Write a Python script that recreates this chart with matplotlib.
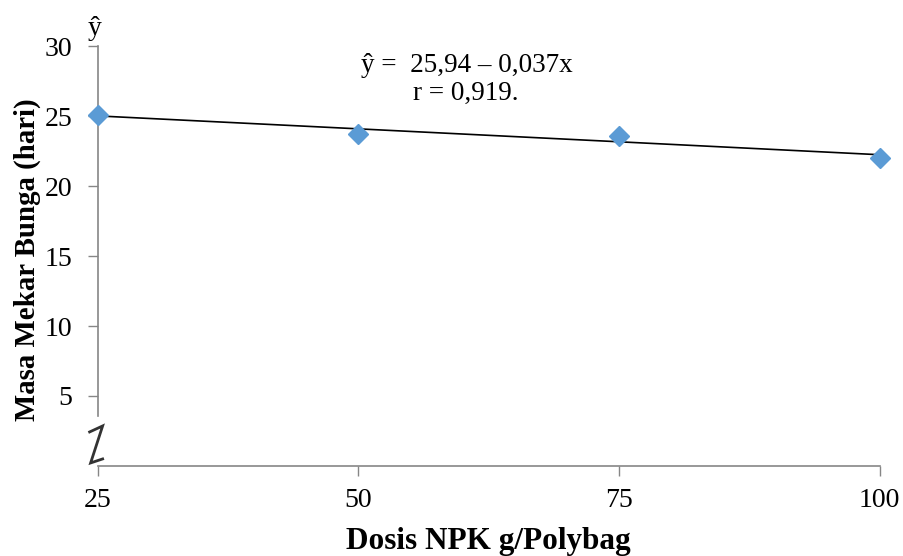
import matplotlib
matplotlib.use("Agg")
import matplotlib.pyplot as plt
import numpy as np

dosis = [25, 50, 75, 100]
masa_mekar = [25.1, 23.7, 23.6, 22.0]
intercept = 25.94
slope = -0.037
x_ticks = [25, 50, 75, 100]
y_ticks = [5, 10, 15, 20, 25, 30]

plt.rcParams['font.family'] = ['Liberation Serif', 'DejaVu Serif']

fig = plt.figure(figsize=(9.04, 5.56), dpi=100)
ax = fig.add_axes([0.108, 0.162, 0.865, 0.755])

xl = np.array([min(dosis), max(dosis)])
ax.plot(xl, intercept + slope * xl, color='black', lw=1.2, zorder=2)
ax.plot(dosis, masa_mekar, linestyle='none', marker='D', markersize=10.5,
        color='#5B9BD5', zorder=3, clip_on=False)

ax.set_xlim(25, 100)
ax.set_ylim(0, 30)
ax.set_xticks(x_ticks)
ax.set_yticks(y_ticks)
ax.tick_params(axis='both', labelsize=20, colors='black', length=7,
               width=1, direction='out')
ax.tick_params(axis='y', color='#868686', pad=11)
ax.tick_params(axis='x', color='#868686', pad=9)

for s in ['top', 'right']:
    ax.spines[s].set_visible(False)
for s in ['left', 'bottom']:
    ax.spines[s].set_color('#868686')
    ax.spines[s].set_linewidth(1.2)
ax.spines['left'].set_bounds(3.6, 30)

ax.set_ylabel('Masa Mekar Bunga (hari)', fontsize=20.8, fontweight='bold')
ax.yaxis.set_label_coords(-0.073, 0.492)
ax.set_xlabel('Dosis NPK g/Polybag', fontsize=22.5, fontweight='bold')
ax.xaxis.set_label_coords(0.5, -0.145)

# axis break symbol
px = lambda x, y: ((x - 98) / 782.0, (466 - y) / 420.0)
zpts = [px(90, 432), px(103, 426), px(91, 463), px(103, 459)]
ax.plot([p[0] for p in zpts], [p[1] for p in zpts], transform=ax.transAxes,
        color='#333333', lw=2.0, clip_on=False, solid_joinstyle='miter', zorder=4)

ax.text(-0.004, 1.043, 'ŷ', transform=ax.transAxes, fontsize=20, ha='center', va='center')

ax.text(0.472, 0.953, 'ŷ =  25,94 – 0,037x', transform=ax.transAxes,
        fontsize=19.5, ha='center', va='center')
ax.text(0.471, 0.888, 'r = 0,919.', transform=ax.transAxes,
        fontsize=19.5, ha='center', va='center')

fig.savefig('out.png', dpi=100)
